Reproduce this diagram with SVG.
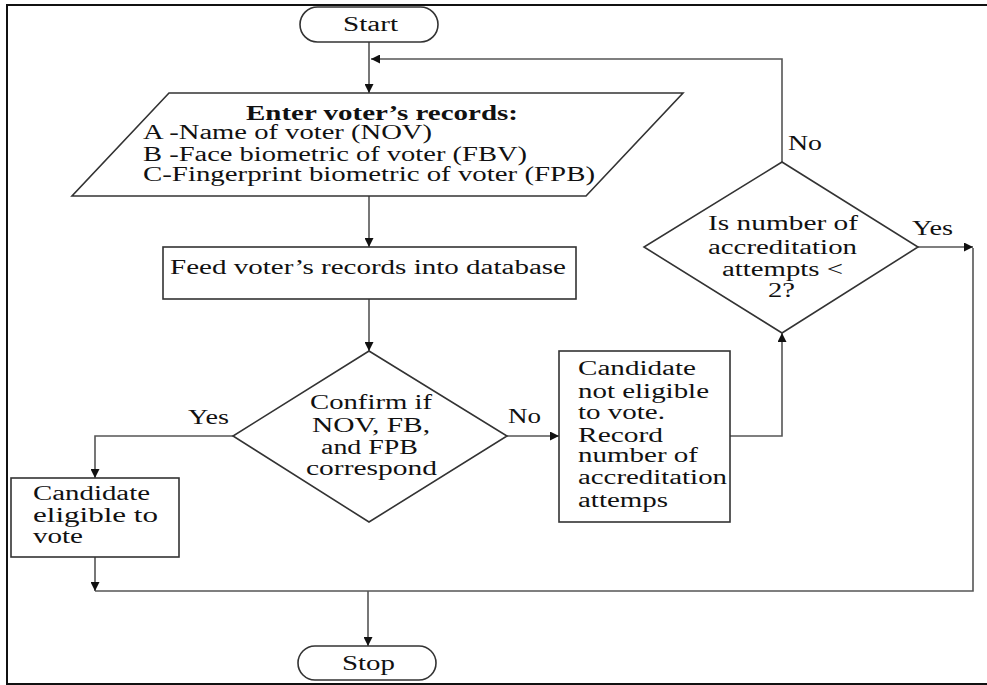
<svg xmlns="http://www.w3.org/2000/svg" width="987" height="685" viewBox="0 0 987 685">
<defs>
<style>
.shape{fill:#fff;stroke:#333;stroke-width:1.6}
.conn{fill:none;stroke:#555;stroke-width:1.6}
text{font-family:"Liberation Serif","Times New Roman",serif;font-size:20px;fill:#111}
.b{font-weight:bold}
</style>
<marker id="ah" viewBox="0 0 10 10" refX="10" refY="5" markerWidth="9" markerHeight="9" markerUnits="userSpaceOnUse" orient="auto">
<path d="M0,0 L10,5 L0,10 z" fill="#111"/>
</marker>
</defs>
<rect x="0" y="0" width="987" height="685" fill="#fff"/>
<rect x="7" y="5" width="990" height="679" fill="none" stroke="#111" stroke-width="2"/>

<g id="connectors">
<path class="conn" d="M369,42 V93" marker-end="url(#ah)"/>
<path class="conn" d="M782,162 V59 H371" marker-end="url(#ah)"/>
<path class="conn" d="M369,196 V247" marker-end="url(#ah)"/>
<path class="conn" d="M369,299 V351" marker-end="url(#ah)"/>
<path class="conn" d="M233,436 H95 V478" marker-end="url(#ah)"/>
<path class="conn" d="M507,436 H559" marker-end="url(#ah)"/>
<path class="conn" d="M730,436 H782 V333" marker-end="url(#ah)"/>
<path class="conn" d="M918,247 H973" marker-end="url(#ah)"/>
<path class="conn" d="M973,248 V591 H95"/>
<path class="conn" d="M95,557 V591" marker-end="url(#ah)"/>
<path class="conn" d="M368,591 V646" marker-end="url(#ah)"/>
<text x="188" y="424" textLength="41" lengthAdjust="spacingAndGlyphs">Yes</text>
<text x="508" y="423" textLength="33" lengthAdjust="spacingAndGlyphs">No</text>
<text x="788" y="150" textLength="34" lengthAdjust="spacingAndGlyphs">No</text>
<text x="912" y="235" textLength="41" lengthAdjust="spacingAndGlyphs">Yes</text>
</g>

<g id="start">
<rect class="shape" x="300" y="7" width="138" height="35" rx="17.5"/>
<text x="343" y="31" textLength="55" lengthAdjust="spacingAndGlyphs">Start</text>
</g>

<g id="input">
<polygon class="shape" points="169,93 683,93 586,196 72,196"/>
<text class="b" x="246" y="120" textLength="272" lengthAdjust="spacingAndGlyphs">Enter voter’s records:</text>
<text x="143" y="139" textLength="289" lengthAdjust="spacingAndGlyphs">A -Name of voter (NOV)</text>
<text x="143" y="161" textLength="384" lengthAdjust="spacingAndGlyphs">B -Face biometric of voter (FBV)</text>
<text x="143" y="181" textLength="452" lengthAdjust="spacingAndGlyphs">C-Fingerprint biometric of voter (FPB)</text>
</g>

<g id="feed">
<rect class="shape" x="163" y="247" width="413" height="52"/>
<text x="170" y="274" textLength="396" lengthAdjust="spacingAndGlyphs">Feed voter’s records into database</text>
</g>

<g id="confirm">
<polygon class="shape" points="369,351 507,436 369,522 233,436"/>
<text x="310" y="409" textLength="122" lengthAdjust="spacingAndGlyphs">Confirm if</text>
<text x="312" y="432" textLength="118" lengthAdjust="spacingAndGlyphs">NOV, FB,</text>
<text x="321" y="454" textLength="97" lengthAdjust="spacingAndGlyphs">and FPB</text>
<text x="306" y="475" textLength="131" lengthAdjust="spacingAndGlyphs">correspond</text>
</g>

<g id="eligible">
<rect class="shape" x="11" y="478" width="168" height="79"/>
<text x="33" y="500" textLength="117" lengthAdjust="spacingAndGlyphs">Candidate</text>
<text x="33" y="522" textLength="125" lengthAdjust="spacingAndGlyphs">eligible to</text>
<text x="33" y="543" textLength="50" lengthAdjust="spacingAndGlyphs">vote</text>
</g>

<g id="not-eligible">
<rect class="shape" x="559" y="351" width="171" height="171"/>
<text x="578" y="375" textLength="118" lengthAdjust="spacingAndGlyphs">Candidate</text>
<text x="578" y="398" textLength="131" lengthAdjust="spacingAndGlyphs">not eligible</text>
<text x="578" y="419" textLength="87" lengthAdjust="spacingAndGlyphs">to vote.</text>
<text x="578" y="442" textLength="85" lengthAdjust="spacingAndGlyphs">Record</text>
<text x="578" y="462" textLength="120" lengthAdjust="spacingAndGlyphs">number of</text>
<text x="578" y="484" textLength="149" lengthAdjust="spacingAndGlyphs">accreditation</text>
<text x="578" y="507" textLength="90" lengthAdjust="spacingAndGlyphs">attemps</text>
</g>

<g id="attempts">
<polygon class="shape" points="782,162 918,247 782,333 644,247"/>
<text x="708" y="230" textLength="150" lengthAdjust="spacingAndGlyphs">Is number of</text>
<text x="708" y="254" textLength="149" lengthAdjust="spacingAndGlyphs">accreditation</text>
<text x="722" y="276" textLength="121" lengthAdjust="spacingAndGlyphs">attempts &lt;</text>
<text x="768" y="297" textLength="27" lengthAdjust="spacingAndGlyphs">2?</text>
</g>

<g id="stop">
<rect class="shape" x="298" y="646" width="138" height="34" rx="17"/>
<text x="342" y="670" textLength="53" lengthAdjust="spacingAndGlyphs">Stop</text>
</g>
</svg>
